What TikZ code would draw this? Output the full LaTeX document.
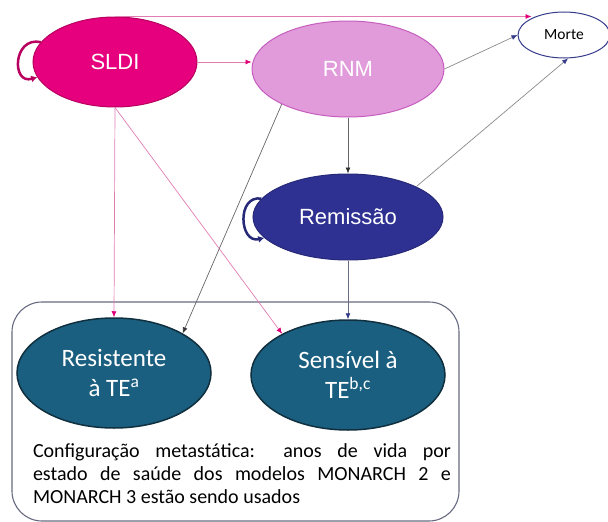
\documentclass[tikz,border=0pt]{standalone}
\usepackage{fontspec}
\setmainfont{Carlito}
\newfontfamily\topfont{Liberation Sans}
\usetikzlibrary{shapes.geometric,arrows.meta,calc}

\definecolor{sldifill}{HTML}{E6007E}
\definecolor{sldiedge}{HTML}{B8005F}
\definecolor{rnmfill}{HTML}{E19BDA}
\definecolor{rnmedge}{HTML}{C65EC0}
\definecolor{remfill}{HTML}{2E3192}
\definecolor{remedge}{HTML}{262878}
\definecolor{tefill}{HTML}{1B5F80}
\definecolor{teedge}{HTML}{10303F}
\definecolor{pinkline}{HTML}{E27DB4}
\definecolor{pinktip}{HTML}{E0007A}
\definecolor{navytip}{HTML}{363C8C}
\definecolor{greyline}{HTML}{8A8A8A}
\definecolor{boxline}{HTML}{676A80}

\begin{document}
\begin{tikzpicture}[x=1pt,y=-1pt,
		topstate/.style={ellipse, inner sep=0pt, line width=1pt, text=white, font=\topfont\fontsize{22}{26}\selectfont},
		testate/.style={ellipse, inner sep=0pt, line width=1.5pt, fill=tefill, draw=teedge, text=white, align=center, font=\fontsize{25}{30}\selectfont},
		pinkarrow/.style={draw=pinkline, line width=0.7pt, -{Latex[length=6pt,width=5pt,color=pinktip]}},
		navyarrow/.style={draw=greyline, line width=0.7pt, -{Latex[length=6pt,width=5pt,color=navytip]}},
		darkarrow/.style={draw=gray!80!black, line width=0.7pt, -{Latex[length=6pt,width=5pt,color=black!80]}},
		selfloop/.style={line width=2.5pt, -{Latex[length=6pt,width=7pt]}}]
	\useasboundingbox (0,0) rectangle (608,522);
	
	% box round the metastatic states
	\draw[boxline, line width=1.1pt, rounded corners=30pt] (12,302) rectangle (459,521);
	
	\node[topstate, fill=sldifill, draw=sldiedge, minimum width=164pt, minimum height=90pt] (sldi) at (115,62) {\raisebox{-4pt}{SLDI}};
	\node[topstate, fill=rnmfill, draw=rnmedge, minimum width=192pt, minimum height=96pt] (rnm) at (348,69) {RNM};
	\node[ellipse, inner sep=0pt, fill=white, draw=navytip, line width=1pt, minimum width=92pt, minimum height=46pt, font=\fontsize{15.5}{18}\selectfont] (morte) at (564,35) {Morte};
	\node[topstate, fill=remfill, draw=remedge, minimum width=190pt, minimum height=86pt] (rem) at (348,217) {\raisebox{-4pt}{Remissão}};
	\node[testate, minimum width=194pt, minimum height=110pt] (res) at (114,373) {Resistente\\à TE\textsuperscript{a}};
	\node[testate, minimum width=194pt, minimum height=110pt] (sens) at (348,375) {Sensível à\\TE\textsuperscript{b,c}};
	\node[text width=418pt, align=justify, font=\fontsize{20}{23}\selectfont] (caption) at (242,474)
		{Configuração metastática: anos de vida por\linebreak estado de saúde dos modelos MONARCH 2 e\linebreak MONARCH 3 estão sendo usados};
	
	% transitions
	\draw[pinkarrow] (sldi.north) -- ($(sldi.north -| morte.west)+(14,0)$);
	\draw[pinkarrow] (sldi.east) -- (rnm.west |- sldi.east);
	\draw[pinkarrow] (sldi.south) -- (res.north);
	\draw[pinkarrow] (sldi.south) -- (sens.148);
	
	\draw[navyarrow] (rnm.east) -- (morte.west);
	\draw[navyarrow] (rem.24) -- (morte.-80);
	\draw[darkarrow] (rnm.south) -- (rem.north);
	\draw[darkarrow] (rnm.208) -- (res.30);
	\draw[navyarrow, draw=boxline] (rem.south) -- (sens.north);
	
	% self loops
	\draw[selfloop, sldiedge] (sldi.165) .. controls +(-28,-6) and +(-26,8) .. (sldi.191);
	\draw[selfloop, remedge] (rem.168) .. controls +(-25,-4) and +(-25,6) .. (rem.194);
\end{tikzpicture}
\end{document}
